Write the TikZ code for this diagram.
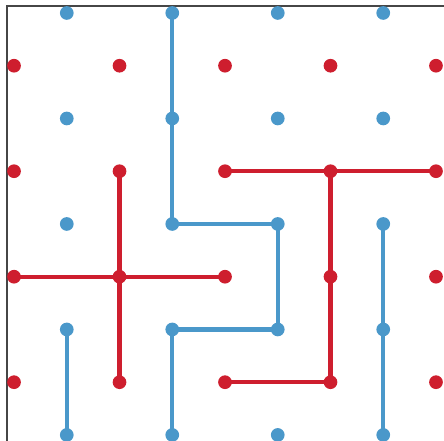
\documentclass[tikz,border=0pt]{standalone}
\usepackage{xcolor}
\definecolor{boardred}{RGB}{206,30,46}
\definecolor{boardblue}{RGB}{74,152,202}
\definecolor{boardframe}{RGB}{70,70,70}
\usetikzlibrary{backgrounds}
\tikzset{
  reddot/.style  ={circle,inner sep=0pt,minimum size=1.3mm,fill=boardred},
  bluedot/.style ={circle,inner sep=0pt,minimum size=1.3mm,fill=boardblue},
  redlink/.style ={draw=boardred,line width=1.15pt},
  bluelink/.style={draw=boardblue,line width=1.15pt},
}
\begin{document}
\begin{tikzpicture}
  \useasboundingbox (-0.133,-4.057) rectangle (4.076,0.123);
  % ---- frame (top and left only) -------------------------------------
  \draw[boardframe,line width=0.5pt] (-0.066,-4.057) -- (-0.066,0.066) -- (4.076,0.066);

  % ---- dots ------------------------------------------------------------
  \foreach \i in {0,...,4}
    \foreach \j in {0,...,3}
      \node[reddot] (r\i\j) at (\i,-\j-0.5) {};
  \foreach \i in {0,...,3}
    \foreach \j in {0,...,4}
      \node[bluedot] (b\i\j) at (\i+0.5,-\j) {};

  % ---- links -----------------------------------------------------------
  \begin{scope}[on background layer]
    \draw[bluelink] (b10.center) -- (b11.center) -- (b12.center) -- (b22.center)
      -- (b23.center) -- (b13.center) -- (b14.center);
    \draw[bluelink] (b03.center) -- (b04.center);
    \draw[bluelink] (b32.center) -- (b33.center) -- (b34.center);
    \draw[redlink] (r21.center) -- (r31.center) -- (r41.center);
    \draw[redlink] (r31.center) -- (r32.center) -- (r33.center) -- (r23.center);
    \draw[redlink] (r02.center) -- (r12.center) -- (r22.center);
    \draw[redlink] (r11.center) -- (r12.center) -- (r13.center);
  \end{scope}
\end{tikzpicture}
\end{document}
